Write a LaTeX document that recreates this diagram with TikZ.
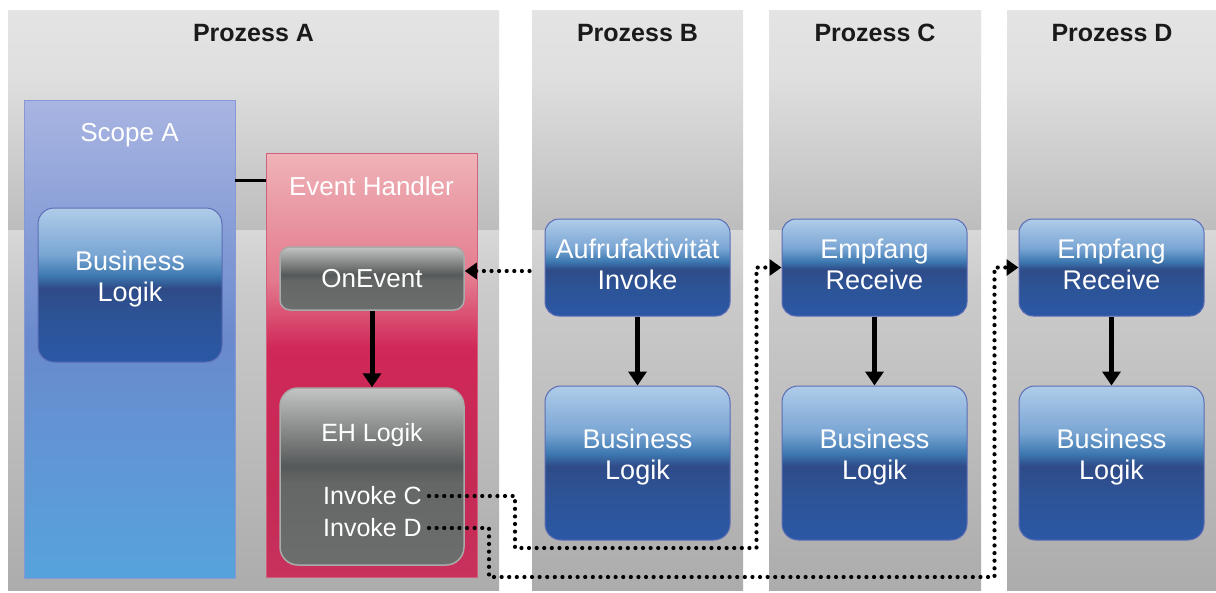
\documentclass[tikz,border=0pt]{standalone}
\usepackage{fontspec}
\setmainfont{Liberation Sans}
\usetikzlibrary{arrows.meta}
\definecolor{pu1}{HTML}{E4E4E4}\definecolor{pu2}{HTML}{DFDFDF}\definecolor{pu3}{HTML}{BDBDBD}
\definecolor{pd1}{HTML}{D8D8D8}\definecolor{pd2}{HTML}{CBCBCB}\definecolor{pd3}{HTML}{ACACAC}
\definecolor{sa1}{HTML}{A9B5E2}\definecolor{sa2}{HTML}{6A8ACD}\definecolor{sa3}{HTML}{56A3DC}\definecolor{sabord}{HTML}{8898D4}
\definecolor{eh1}{HTML}{EFB3B7}\definecolor{eh2}{HTML}{E37A8E}\definecolor{eh3}{HTML}{D02858}\definecolor{eh4}{HTML}{C42A55}\definecolor{eh5}{HTML}{C8325C}\definecolor{ehbord}{HTML}{D06080}
\definecolor{bg1}{HTML}{2A58A6}\definecolor{bg2}{HTML}{2D5396}\definecolor{bg3}{HTML}{2F4B88}\definecolor{bg4}{HTML}{3C78B0}\definecolor{bg6}{HTML}{7AA6D4}\definecolor{bg5}{HTML}{B0CCE9}\definecolor{bbord}{HTML}{5C6CB4}
\definecolor{gg1}{HTML}{6B6E6D}\definecolor{gg2}{HTML}{646766}\definecolor{gg3}{HTML}{565959}\definecolor{gg4}{HTML}{C3C4C4}\definecolor{gbord}{HTML}{A9AAAA}
\definecolor{titlecol}{HTML}{1A1A1A}
\pgfdeclareverticalshading{panelup}{100bp}{color(0bp)=(pu3); color(25bp)=(pu3); color(60bp)=(pu2); color(75bp)=(pu1); color(100bp)=(pu1)}
\pgfdeclareverticalshading{paneldown}{100bp}{color(0bp)=(pd3); color(25bp)=(pd3); color(67bp)=(pd2); color(75bp)=(pd1); color(100bp)=(pd1)}
\pgfdeclareverticalshading{ehshade}{100bp}{color(0bp)=(eh5); color(25bp)=(eh5); color(35bp)=(eh4); color(52bp)=(eh3); color(60bp)=(eh2); color(75bp)=(eh1); color(100bp)=(eh1)}
\pgfdeclareverticalshading{bluegloss}{100bp}{color(0bp)=(bg1); color(25bp)=(bg1); color(40bp)=(bg2); color(49bp)=(bg3); color(53bp)=(bg4); color(60bp)=(bg6); color(75bp)=(bg5); color(100bp)=(bg5)}
\pgfdeclareverticalshading{graygloss}{100bp}{color(0bp)=(gg1); color(25bp)=(gg1); color(48bp)=(gg2); color(53bp)=(gg3); color(75bp)=(gg4); color(100bp)=(gg4)}
\newcommand{\twoline}[2]{\begin{tabular}{@{}c@{}}#1\\#2\end{tabular}}
\newcommand{\upby}[2]{\raisebox{#1}[\height][\depth]{#2}}
\tikzset{
  panelupper/.style={shade, shading=panelup},
  panellower/.style={shade, shading=paneldown},
  titlest/.style={font=\bfseries\fontsize{25}{30}\selectfont, text=titlecol, inner sep=0pt},
  lbl/.style={font=\fontsize{26}{30}\selectfont, text=white, inner sep=0pt},
  lblsmall/.style={font=\fontsize{25}{30}\selectfont, text=white, inner sep=0pt},
  scopest/.style={draw=sabord, line width=0.8pt, top color=sa1, bottom color=sa3, middle color=sa2},
  ehst/.style={draw=ehbord, line width=0.8pt, shade, shading=ehshade},
  bluebox/.style={shade, shading=bluegloss, draw=bbord, line width=1pt, text=white,
     font=\fontsize{27}{31}\selectfont, minimum width=185pt, inner sep=0pt},
  graybox/.style={shade, shading=graygloss, draw=gbord, line width=1.5pt, text=white,
     font=\fontsize{26}{30}\selectfont, minimum width=184pt, inner sep=0pt},
  solidarrow/.style={line width=5pt, -{Triangle[length=14pt,width=18pt]}},
  dotarrow/.style={line width=4.2pt, dash pattern=on 0pt off 7.6pt, line cap=round, -{Triangle[length=12pt,width=16pt]}},
}
\begin{document}
\begin{tikzpicture}[x=1pt,y=-1pt]
\useasboundingbox[fill=white] (0,0) rectangle (1216,592);
% process panels
\foreach \a/\b in {8/499,532/743,769/981,1007/1216} {
  \path[panelupper] (\a,10) rectangle (\b,230);
  \path[panellower] (\a,230) rectangle (\b,590);
}
\node[titlest] (tA) at (253.5,33) {Prozess A};
\node[titlest] (tB) at (637.5,33) {Prozess B};
\node[titlest] (tC) at (875,33) {Prozess C};
\node[titlest] (tD) at (1112,33) {Prozess D};
% Prozess A
\node[scopest, minimum width=211pt, minimum height=478pt] (ScopeA) at (129.5,339) {};
\node[lbl] (ScopeAt) at (129.5,135.5) {Scope A};
\node[ehst, minimum width=211pt, minimum height=424pt] (EH) at (371.5,365) {};
\node[lbl] (EHt) at (371.5,186) {Event Handler};
\coordinate (sa) at ([yshift=-81pt]ScopeA.north east);
\draw[line width=3pt] (sa) -- (sa -| EH.west);
\node[bluebox, minimum width=184pt, minimum height=154pt, rounded corners=16pt] (BLA) at (130,285) {\upby{5pt}{\twoline{Business}{Logik}}};
\node[graybox, minimum height=63pt, rounded corners=10pt] (OnEv) at (372,278.5) {OnEvent};
\node[graybox, minimum height=177pt, rounded corners=18pt] (EHL) at (372,476.5) {};
\node[lblsmall] (EHLt) at (372,435) {EH Logik};
\node[lblsmall] (InvC) at (372.5,496) {Invoke C};
\node[lblsmall] (InvD) at (372.5,528) {Invoke D};
% Prozess B, C, D
\node[bluebox, minimum height=97pt, rounded corners=14pt] (InvB) at (637.5,267.5) {\twoline{Aufrufaktivität}{Invoke}};
\node[bluebox, minimum height=154pt, rounded corners=16pt] (BLB) at (637.5,463) {\upby{5pt}{\twoline{Business}{Logik}}};
\node[bluebox, minimum height=97pt, rounded corners=14pt] (RecC) at (874.5,267.5) {\twoline{Empfang}{Receive}};
\node[bluebox, minimum height=154pt, rounded corners=16pt] (BLC) at (874.5,463) {\upby{5pt}{\twoline{Business}{Logik}}};
\node[bluebox, minimum height=97pt, rounded corners=14pt] (RecD) at (1111.5,267.5) {\twoline{Empfang}{Receive}};
\node[bluebox, minimum height=154pt, rounded corners=16pt] (BLD) at (1111.5,463) {\upby{5pt}{\twoline{Business}{Logik}}};
% solid arrows
\draw[solidarrow] (OnEv) -- (EHL);
\draw[solidarrow] (InvB) -- (BLB);
\draw[solidarrow] (RecC) -- (BLC);
\draw[solidarrow] (RecD) -- (BLD);
% dotted connectors
\coordinate (oe) at ([yshift=7.5pt]OnEv.east);
\coordinate (b1) at ([xshift=-15pt]InvB.west);
\draw[dotarrow] (b1 |- oe) -- (oe);
\coordinate (c1) at (515,548);
\coordinate (c2) at ([xshift=-25pt]RecC.west);
\draw[dotarrow] ([xshift=7pt]InvC.east) -| (c1) -| (c2) -- (RecC.west);
\coordinate (d1) at (489,577);
\coordinate (d2) at ([xshift=-24pt]RecD.west);
\draw[dotarrow] ([xshift=7pt]InvD.east) -| (d1) -| (d2) -- (RecD.west);
\end{tikzpicture}
\end{document}
